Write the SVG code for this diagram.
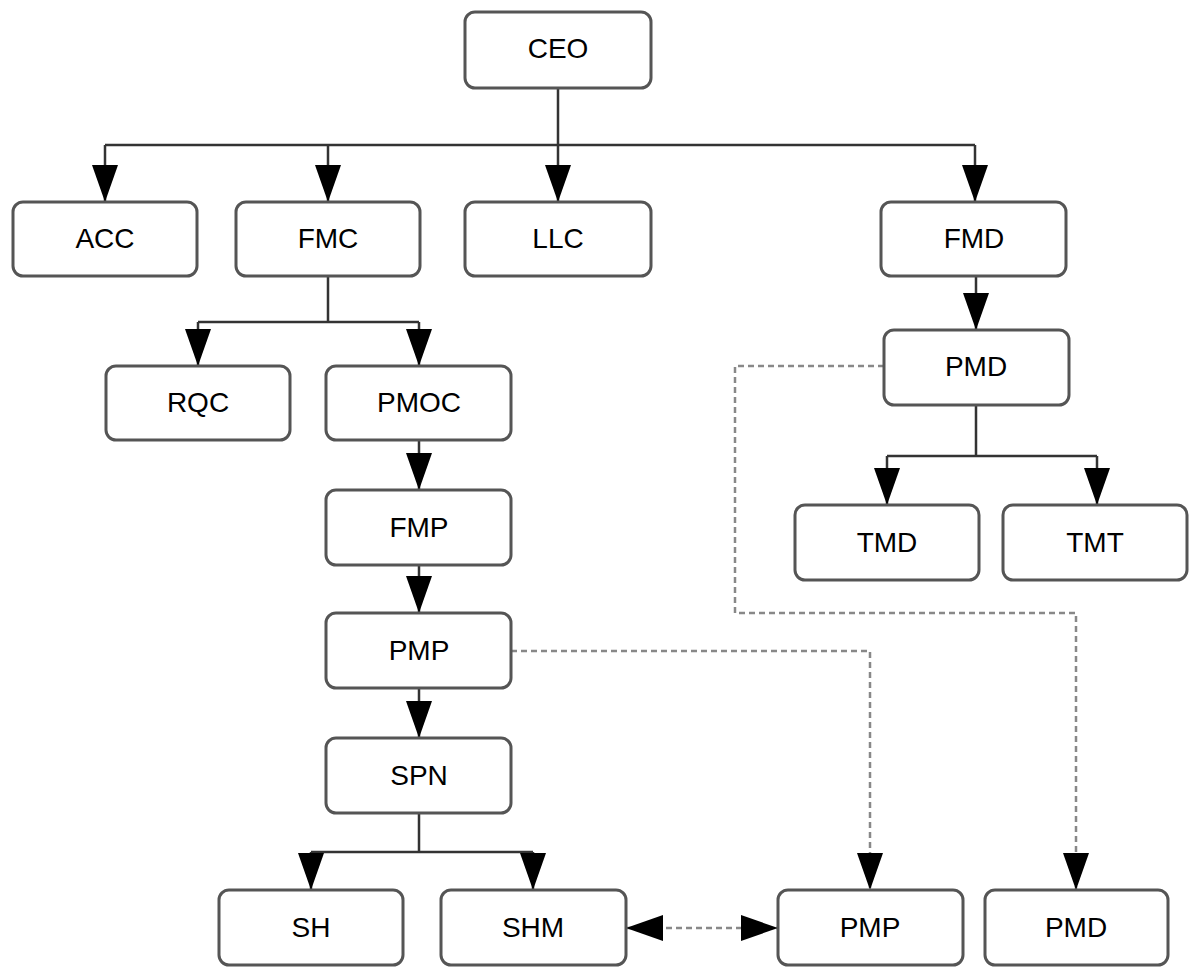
<svg xmlns="http://www.w3.org/2000/svg" width="1189" height="967" viewBox="0 0 1189 967">
<style>
.box{fill:#fff;stroke:#555;stroke-width:3}
.sh{fill:none;stroke:#bbb;stroke-width:3}
.lbl{font-family:"Liberation Sans",Arial,sans-serif;font-size:28px;fill:#000;text-anchor:middle}
.ln{fill:none;stroke:#333;stroke-width:2.5}
.dl{fill:none;stroke:#888;stroke-width:2.5;stroke-dasharray:6 4}
</style>
<defs>
<marker id="ah" markerUnits="userSpaceOnUse" markerWidth="38" markerHeight="28" viewBox="0 0 38 28" refX="37" refY="14" orient="auto-start-reverse">
<path d="M0,1 L37,14 L0,27 z" fill="#000"/>
</marker>
</defs>
<rect width="1189" height="967" fill="#fff"/>
<g id="connectors">
<path class="ln" d="M558,88 V145 M105,145 H975" />
<path class="ln" d="M105,145 V202" marker-end="url(#ah)"/>
<path class="ln" d="M328,145 V202" marker-end="url(#ah)"/>
<path class="ln" d="M558,145 V202" marker-end="url(#ah)"/>
<path class="ln" d="M975,145 V202" marker-end="url(#ah)"/>
<path class="ln" d="M328,276 V322 M198,322 H419"/>
<path class="ln" d="M198,322 V366" marker-end="url(#ah)"/>
<path class="ln" d="M419,322 V366" marker-end="url(#ah)"/>
<path class="ln" d="M419,440 V490" marker-end="url(#ah)"/>
<path class="ln" d="M419,565 V613" marker-end="url(#ah)"/>
<path class="ln" d="M419,688 V738" marker-end="url(#ah)"/>
<path class="ln" d="M419,813 V852 M311,852 H533"/>
<path class="ln" d="M311,852 V890" marker-end="url(#ah)"/>
<path class="ln" d="M533,852 V890" marker-end="url(#ah)"/>
<path class="ln" d="M976,276 V330" marker-end="url(#ah)"/>
<path class="ln" d="M976,405 V456 M887,456 H1097"/>
<path class="ln" d="M887,456 V505" marker-end="url(#ah)"/>
<path class="ln" d="M1097,456 V505" marker-end="url(#ah)"/>
<path class="dl" d="M511,651 H870 V890" marker-end="url(#ah)"/>
<path class="dl" d="M884,366 H735 V613 H1076 V890" marker-end="url(#ah)"/>
<path class="dl" d="M626,928 H778" marker-start="url(#ah)" marker-end="url(#ah)"/>
</g>
<g id="CEO"><rect class="box" x="465" y="12" width="186" height="76" rx="10"/><text class="lbl" x="558" y="58">CEO</text></g>
<g id="ACC"><rect class="box" x="13" y="202" width="184" height="74" rx="10"/><text class="lbl" x="105" y="248">ACC</text></g>
<g id="FMC"><rect class="box" x="236" y="202" width="184" height="74" rx="10"/><text class="lbl" x="328" y="248">FMC</text></g>
<g id="LLC"><rect class="box" x="465" y="202" width="186" height="74" rx="10"/><text class="lbl" x="558" y="248">LLC</text></g>
<g id="FMD"><rect class="box" x="881" y="202" width="185" height="74" rx="10"/><text class="lbl" x="974" y="248">FMD</text></g>
<g id="RQC"><rect class="box" x="106" y="366" width="184" height="74" rx="10"/><text class="lbl" x="198" y="412">RQC</text></g>
<g id="PMOC"><rect class="box" x="326" y="366" width="185" height="74" rx="10"/><text class="lbl" x="419" y="412">PMOC</text></g>
<g id="PMD"><rect class="box" x="884" y="330" width="185" height="75" rx="10"/><text class="lbl" x="976" y="376">PMD</text></g>
<g id="TMD"><rect class="box" x="795" y="505" width="184" height="75" rx="10"/><text class="lbl" x="887" y="552">TMD</text></g>
<g id="TMT"><rect class="box" x="1003" y="505" width="184" height="75" rx="10"/><text class="lbl" x="1095" y="552">TMT</text></g>
<g id="FMP"><rect class="box" x="326" y="490" width="185" height="75" rx="10"/><text class="lbl" x="419" y="537">FMP</text></g>
<g id="PMP"><rect class="box" x="326" y="613" width="185" height="75" rx="10"/><text class="lbl" x="419" y="660">PMP</text></g>
<g id="SPN"><rect class="box" x="326" y="738" width="185" height="75" rx="10"/><text class="lbl" x="419" y="785">SPN</text></g>
<g id="SH"><rect class="box" x="219" y="890" width="184" height="75" rx="10"/><text class="lbl" x="311" y="937">SH</text></g>
<g id="SHM"><rect class="box" x="441" y="890" width="185" height="75" rx="10"/><text class="lbl" x="533" y="937">SHM</text></g>
<g id="PMP2"><rect class="box" x="778" y="890" width="185" height="75" rx="10"/><text class="lbl" x="870" y="937">PMP</text></g>
<g id="PMD2"><rect class="box" x="985" y="890" width="183" height="75" rx="10"/><text class="lbl" x="1076" y="937">PMD</text></g>
</svg>
